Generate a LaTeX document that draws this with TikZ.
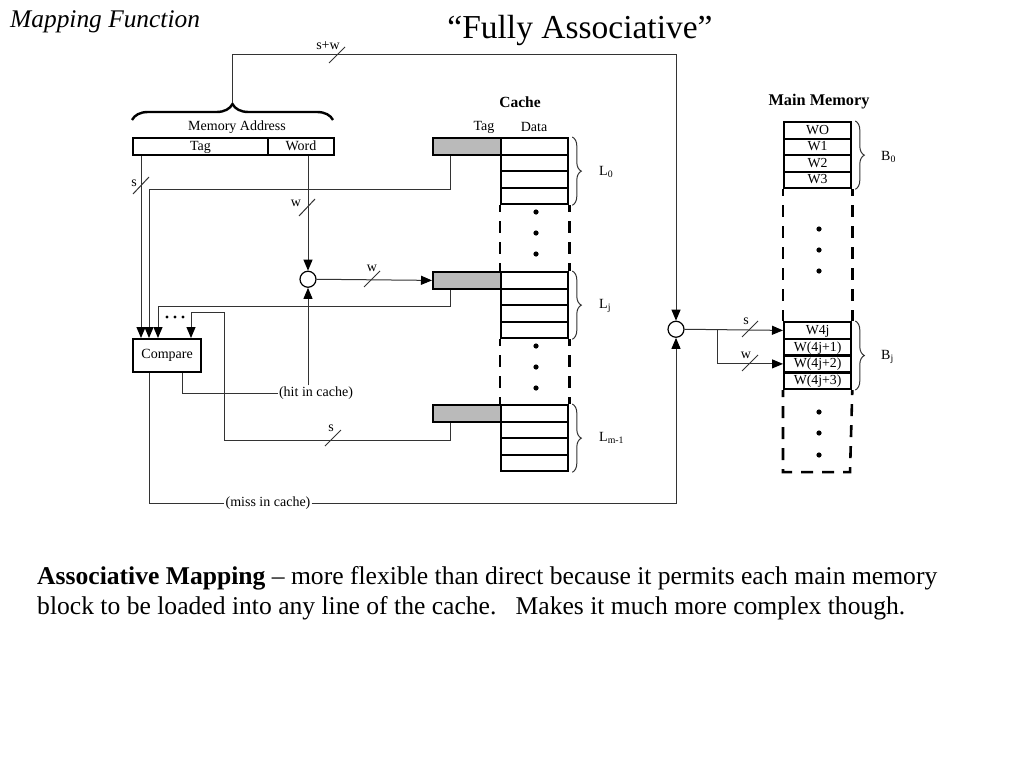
\documentclass[tikz,border=0pt]{standalone}
\usepackage{fontspec}
\setmainfont{Liberation Serif}
\usetikzlibrary{arrows.meta,decorations.pathreplacing,calc}
\begin{document}
\begin{tikzpicture}[x=1pt,y=-1pt,
  wire/.style={line width=1pt, draw=black!80},
  arr/.style={wire, -{Triangle[length=11pt,width=9pt,color=black]}},
  lbl/.style={font=\fontsize{14}{15}\selectfont, inner sep=1pt},
  addrbox/.style={draw, line width=1.8pt, minimum height=17pt, inner sep=0, text height=10pt, text depth=2pt, anchor=north west, font=\fontsize{14}{15}\selectfont},
  cell/.style={draw, line width=2.3pt, minimum width=67pt, minimum height=16.5pt, inner sep=0, text height=10pt, text depth=2pt, anchor=north west, font=\fontsize{13.8}{14}\selectfont},
  tagbox/.style={cell, fill=black!27, minimum width=68pt},
  sidedash/.style={line width=2.6pt, dash pattern=on 12pt off 9pt, dash phase=5pt},
  rbrace/.style={wire, decorate, decoration={brace, amplitude=9pt}},
  joint/.style={circle, draw, line width=1.2pt, minimum size=16pt, inner sep=0},
  slash/.style={wire}
]
\useasboundingbox (0,0) rectangle (1024,768);

% titles
\node[anchor=base west, inner sep=0, font=\fontsize{25.4}{28}\selectfont\itshape] (maptitle) at (10,28) {Mapping Function};
\node[anchor=base, inner sep=0, font=\fontsize{33.5}{36}\selectfont] (title) at (580,39) {“Fully Associative”};

% memory address
\node[addrbox, minimum width=135pt] (mtag) at (132,137) {Tag};
\node[addrbox, minimum width=66pt] (mword) at (267,137) {Word};
\node[lbl] (maddr) at (237,127) {Memory Address};
\draw[line width=2.4pt, decorate, decoration={brace, amplitude=16pt}] (132,120) -- (333,120);
\coordinate (addrtip) at (232.5,103);

% compare
\node[draw, line width=2.3pt, minimum width=68pt, minimum height=33pt, inner sep=0, anchor=north west, font=\fontsize{14}{15}\selectfont] (cmp) at (132,338) {Compare};

% joints
\node[joint] (c1) at (308,279.25) {};
\node[joint] (c2) at (676,329.25) {};

% cache
\node[font=\fontsize{15.5}{17}\selectfont\bfseries, inner sep=0] (cachet) at (520,102) {Cache};
\node[lbl] (ctag) at (484,127) {Tag};
\node[lbl] (cdata) at (534,127) {Data};
\foreach \g/\y in {0/137, j/271, m/404} {
  \node[tagbox] (t\g) at (432,\y) {};
  \foreach \i in {1,...,4} {
    \node[cell] (d\g\i) at (500,{\y+16.5*(\i-1)}) {};
  }
}
\draw[sidedash] (d04.south west) -- (dj1.north west);
\draw[sidedash] (d04.south east) -- (dj1.north east);
\draw[sidedash] (dj4.south west) -- (dm1.north west);
\draw[sidedash] (dj4.south east) -- (dm1.north east);
\foreach \yy in {212,233,254,346,367,388} \fill (536,\yy) circle (2.6pt);

\draw[rbrace] ($(d01.north east)+(3,0)$) -- ($(d04.south east)+(3,0)$);
\draw[rbrace] ($(dj1.north east)+(3,0)$) -- ($(dj4.south east)+(3,0)$);
\draw[rbrace] ($(dm1.north east)+(3,0)$) -- ($(dm4.south east)+(3,0)$);
\node[lbl, anchor=west] (l0) at (598,172) {L\textsubscript{0}};
\node[lbl, anchor=west] (lj) at (598,306) {L\textsubscript{j}};
\node[lbl, anchor=west] (lm) at (598,438) {L\textsubscript{m-1}};

% main memory
\node[font=\fontsize{16.3}{18}\selectfont\bfseries, inner sep=0] (mmt) at (819,102) {Main Memory};
\node[cell] (w0) at (783,121) {WO};
\node[cell] (w1) at (783,137.5) {W1};
\node[cell] (w2) at (783,154) {W2};
\node[cell] (w3) at (783,170.5) {W3};
\node[cell] (wj0) at (783,321) {W4j};
\node[cell] (wj1) at (783,337.75) {W(4j+1)};
\node[cell] (wj2) at (783,354.5) {W(4j+2)};
\node[cell] (wj3) at (783,371.25) {W(4j+3)};
\draw[sidedash] (w3.south west) -- (wj0.north west);
\draw[sidedash] (w3.south east) -- (wj0.north east);
\draw[sidedash] (wj3.south west) -- ++(0,82) -- ++(67,0) -- (wj3.south east);
\foreach \yy in {229,250,271,412,433,455} \fill (819,\yy) circle (2.6pt);
\draw[rbrace] ($(w0.north east)+(3,0)$) -- ($(w3.south east)+(3,0)$);
\draw[rbrace] ($(wj0.north east)+(3,0)$) -- ($(wj3.south east)+(3,0)$);
\node[lbl, anchor=west] (b0) at (880,157) {B\textsubscript{0}};
\node[lbl, anchor=west] (bj) at (880,357) {B\textsubscript{j}};

% connectors
\draw[arr] (addrtip) -- ++(0,-48) -| (c2.north);
\draw[slash] (329,63) -- (345,47);
\node[lbl] (lsw) at (328,46) {s+w};

\draw[arr] ($(mtag.south west)+(9,0)$) -- ($(cmp.north west)+(9,0)$);
\draw[slash] (133,194) -- (149,177);
\node[lbl] (ls1) at (134,183) {s};

\draw[arr] ($(mword.south west)+(41,0)$) -- (c1.north);
\draw[slash] (299,216) -- (315,199);
\node[lbl] (lw1) at (296,203) {w};

\draw[arr] (c1.east) -- (tj.west);
\draw[slash] (364,287) -- (380,271);
\node[lbl] (lw2) at (372,268) {w};

\draw[arr] ($(t0.south west)+(18,0)$) -- ++(0,34) -| ($(cmp.north west)+(17,0)$);
\draw[arr] ($(tj.south west)+(18,0)$) -- ++(0,16.5) -| ($(cmp.north west)+(26,0)$);
\draw[arr] ($(tm.south west)+(18,0)$) -- ++(0,17.5) -| (224,312) -| ($(cmp.north west)+(59,0)$);
\draw[slash] (325,446) -- (341,430);
\node[lbl] (ls2) at (331,428) {s};
\foreach \xx in {167,175,183} \fill (\xx,317) circle (1.7pt);

\node[lbl] (hit) at (316,393) {(hit in cache)};
\draw[wire] ($(cmp.south west)+(50,0)$) |- (hit.west);
\draw[arr] (hit.north -| c1) -- (c1.south);

\node[lbl] (miss) at (268,503) {(miss in cache)};
\draw[wire] ($(cmp.south west)+(17,0)$) |- (miss.west);
\draw[arr] (miss.east) -| (c2.south);

\draw[arr] (c2.east) -- (wj0.west);
\draw[slash] (742,337) -- (758,321);
\node[lbl] (ls3) at (746,321) {s};
\coordinate (branch) at (717,329.25);
\draw[arr] (branch) |- (wj2.west);
\draw[slash] (742,371) -- (758,355);
\node[lbl] (lw3) at (746,355) {w};

% body text
\node[anchor=base west, inner sep=0, font=\fontsize{25.6}{30}\selectfont] (body1) at (37,584) {\textbf{Associative Mapping} – more flexible than direct because it permits each main memory};
\node[anchor=base west, inner sep=0, font=\fontsize{25.6}{30}\selectfont] (body2) at (37,614) {block to be loaded into any line of the cache.\ \ \ Makes it much more complex though.};
\end{tikzpicture}
\end{document}
